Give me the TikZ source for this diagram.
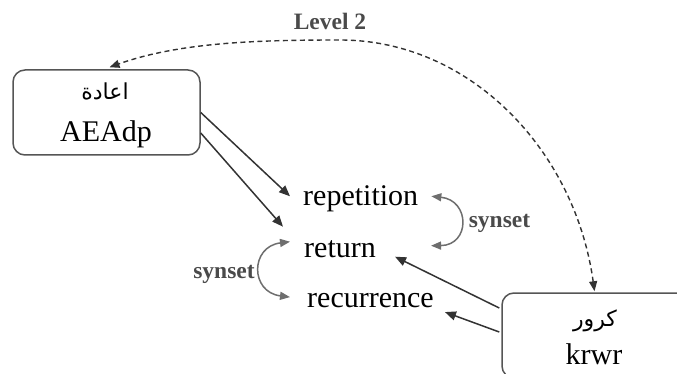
\documentclass[tikz,border=0pt]{standalone}
\usepackage{fontspec}
\setmainfont{Liberation Serif}
\newfontfamily\arabicfont[Script=Arabic]{DejaVu Sans}
\TeXXeTstate=1
\usetikzlibrary{arrows.meta,calc}
\definecolor{boxgrey}{HTML}{555555}
\definecolor{linedark}{HTML}{333333}
\definecolor{syngrey}{HTML}{6E6E6E}
\definecolor{labgrey}{HTML}{4A4A4A}
\begin{document}
\begin{tikzpicture}[x=1pt,y=-1pt,
  wordbox/.style={draw=boxgrey,line width=1.5pt,rounded corners=12pt,minimum width=187pt,minimum height=85pt,inner sep=0pt},
  word/.style={inner sep=0pt,font=\fontsize{30}{36}\selectfont},
  arword/.style={inner sep=0pt,font=\arabicfont\fontsize{22}{26}\selectfont},
  lab/.style={inner sep=0pt,text=labgrey,font=\bfseries\fontsize{23.5}{28}\selectfont},
  darrow/.style={draw=linedark,line width=1.5pt,-{Triangle[length=11pt,width=9pt]}},
  sarrow/.style={draw=syngrey,line width=1.5pt,{Triangle[length=10pt,width=8pt]}-{Triangle[length=10pt,width=8pt]}},
  dasharrow/.style={draw=linedark,line width=1.4pt,dash pattern=on 5pt off 3.5pt,{Triangle[length=10pt,width=8pt]}-{Triangle[length=10pt,width=8pt]}}]
\useasboundingbox (0,0) rectangle (677,374);
\clip (0,0) rectangle (677,374);
% boxes
\node[wordbox] (L) at (106.5,112.5) {};
\node[wordbox] (R) at (595.5,335.5) {};
% box texts
\node[arword,anchor=base] (La) at (105,100) {\beginR اعادة\endR};
\node[word,anchor=base] (Ll) at (106,142) {AEAdp};
\node[arword,anchor=base] (Ra) at (595,326) {\beginR كرور\endR};
\node[word,anchor=base] (Rl) at (594,364) {krwr};
% words
\node[word,anchor=base west] (rep) at (303,206) {repetition};
\node[word,anchor=base west] (ret) at (304,257) {return};
\node[word,anchor=base west] (rec) at (307,307) {recurrence};
% labels
\node[lab,anchor=base] (lev) at (330,30) {Level 2};
\node[lab,anchor=base] (synA) at (499.5,227) {synset};
\node[lab,anchor=base] (synB) at (224,278) {synset};
% connectors
\draw[darrow] (L.east) -- ($(rep.west)+(-13,-3)$);
\draw[darrow] ($(L.east)+(0,20.5)$) -- ($(ret.west)+(-21,-22)$);
\draw[darrow] ($(R.west)+(-2,-27.5)$) -- ($(ret.east)+(19,8)$);
\draw[darrow] ($(R.west)+(-2,-3.5)$) -- ($(rec.east)+(11,12)$);
\draw[sarrow] ($(rep.east)+(13,-3)$) .. controls ($(rep.east)+(52,1)$) and ($(rep.east)+(52,46)$) .. ($(ret.east)+(55,-3)$);
\draw[sarrow] ($(ret.west)+(-14,-7)$) .. controls ($(ret.west)+(-54,-2)$) and ($(rec.west)+(-57,-8)$) .. ($(rec.west)+(-17,-3)$);
\coordinate (top) at (340,40);
\draw[dasharrow] ($(R.north)+(-1,-1)$) .. controls (575,150) and (470,40) .. (top) .. controls (260,40) and (180,42) .. ($(L.north)+(3,-2)$);
\end{tikzpicture}
\end{document}
